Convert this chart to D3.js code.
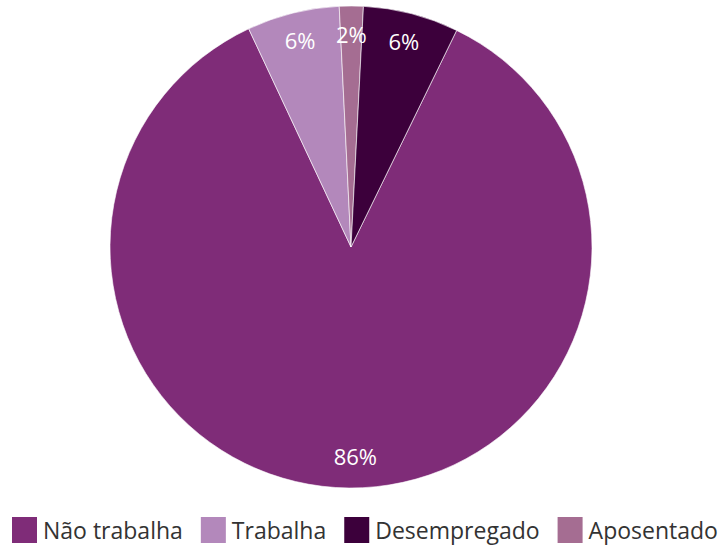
<!DOCTYPE html>
<html>
<head>
<meta charset="utf-8">
<script src="https://cdn.jsdelivr.net/npm/d3@7"></script>
<style>
  body { margin: 0; background: #fff; }
  text { font-family: "Open Sans", "Noto Sans", sans-serif; }
</style>
</head>
<body>
<div class="chart"></div>
<script>
var svgWidth = 721;
var svgHeight = 547;

// pie order (clockwise, starting a bit right of 12 o'clock)
var categories = ["Não trabalha", "Trabalha", "Aposentado", "Desempregado"];
var values = [85.8, 6.2, 1.6, 6.4];
var labels = ["86%", "6%", "2%", "6%"];

// legend order as shown under the chart
var legendNames = ["Não trabalha", "Trabalha", "Desempregado", "Aposentado"];

var colors = {
  "Não trabalha": "#7f2c78",
  "Trabalha": "#b388bb",
  "Aposentado": "#a56d92",
  "Desempregado": "#3c003b"
};

var cx = 351, cy = 247, radius = 241;
var startDeg = 26;

var svg = d3.select(".chart")
  .append("svg")
  .attr("width", svgWidth)
  .attr("height", svgHeight);

var data = categories.map(function(c, i) {
  return { name: c, value: values[i], label: labels[i] };
});

var pie = d3.pie()
  .sort(null)
  .value(d => d.value)
  .startAngle(startDeg * Math.PI / 180)
  .endAngle(startDeg * Math.PI / 180 + 2 * Math.PI);

var arc = d3.arc().innerRadius(0).outerRadius(radius);
var labelArc = d3.arc().innerRadius(211).outerRadius(211);

var pieGroup = svg.append("g")
  .attr("transform", `translate(${cx}, ${cy})`);

var arcs = pie(data);

pieGroup.selectAll("path")
  .data(arcs)
  .enter()
  .append("path")
  .attr("d", arc)
  .attr("fill", d => colors[d.data.name])
  .attr("stroke", "#ffffff")
  .attr("stroke-width", 0.6);

pieGroup.selectAll(".sliceLabel")
  .data(arcs)
  .enter()
  .append("text")
  .classed("sliceLabel", true)
  .attr("transform", d => `translate(${labelArc.centroid(d)})`)
  .attr("dx", d => d.data.name === "Não trabalha" ? 6 : 0)
  .attr("dy", "0.33em")
  .attr("text-anchor", "middle")
  .attr("font-size", "22px")
  .attr("fill", "#ffffff")
  .text(d => d.data.label);

// legend
var legend = svg.append("g")
  .attr("transform", "translate(12, 517)");

var x = 0;
legendNames.forEach(function(name) {
  var item = legend.append("g").attr("transform", `translate(${x}, 0)`);
  item.append("rect")
    .attr("width", 25)
    .attr("height", 26)
    .attr("fill", colors[name]);
  var t = item.append("text")
    .attr("x", 31)
    .attr("y", 22)
    .attr("font-size", "23px")
    .attr("fill", "#333333")
    .text(name);
  x += 31 + t.node().getComputedTextLength() + 18;
});
</script>
</body>
</html>
